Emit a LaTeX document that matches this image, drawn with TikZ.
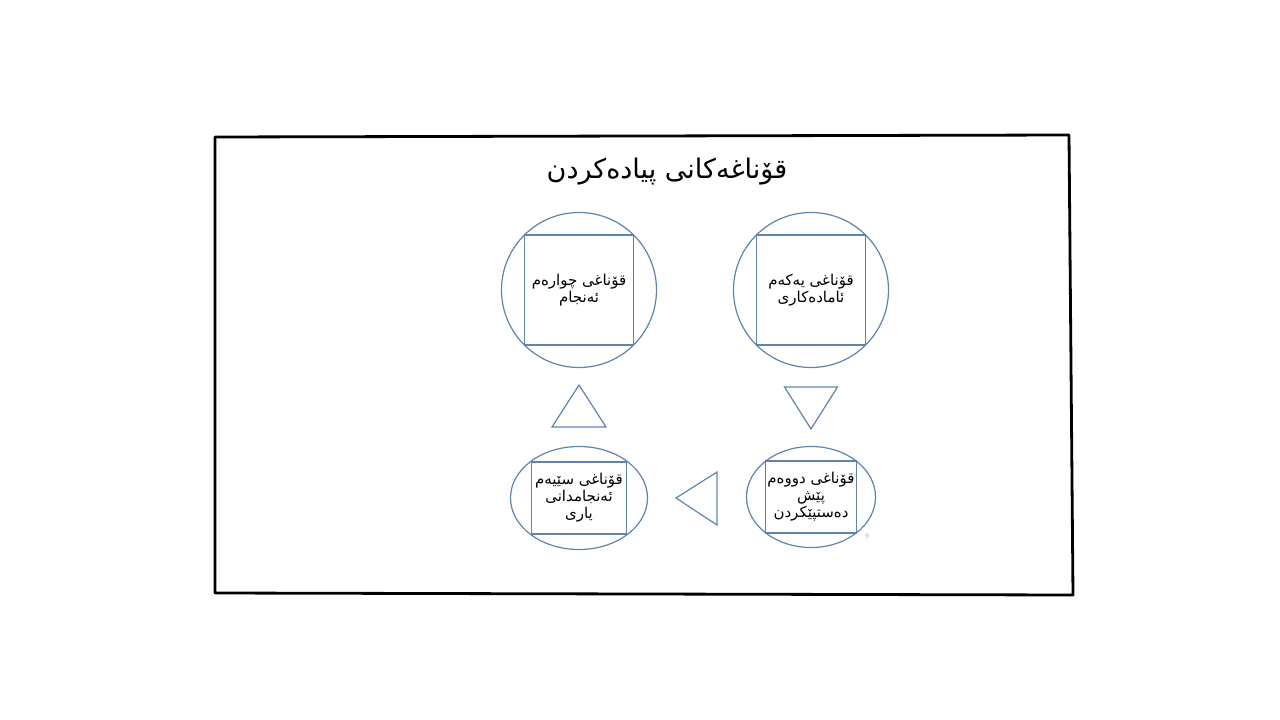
\documentclass[tikz,border=0pt]{standalone}
\usepackage{fontspec}
\newfontfamily\kurdfont[Script=Arabic]{DejaVu Sans}
\TeXXeTstate=1
\usetikzlibrary{shapes.geometric}
\definecolor{stageblue}{HTML}{5E84AD}

\begin{document}
\begin{tikzpicture}
                [x=1pt,y=-1pt,
                 stage/.style={draw=stageblue,line width=1.2pt,inner sep=0pt},
                 label box/.style={stage,rectangle,align=center,font=\kurdfont\fontsize{15}{17}\selectfont},
                 tri/.style={draw=stageblue,line width=1.2pt,line join=miter}]

                \useasboundingbox (0,0) rectangle (1280,720);

                % sketched frame
                \draw[line width=2.8pt,line join=round] (215,137) -- (1069,135) -- (1073,595) -- (215,593) -- cycle;

                \node (title) at (667,172) {\kurdfont\fontsize{27}{30}\selectfont\beginR قۆناغەکانی پیادەکردن\endR};

                \node[stage,circle,minimum size=155pt] (circle 1) at (811,290) {};
                \node[label box,minimum width=109pt,minimum height=110pt] (stage 1) at (circle 1)
                    {\beginR قۆناغی یەکەم\endR\\\beginR ئامادەکاری\endR};

                \node[stage,ellipse,minimum width=129pt,minimum height=101pt] (circle 2) at (811,497) {};
                \node[label box,minimum width=91pt,minimum height=72pt] (stage 2) at (circle 2)
                    {\beginR قۆناغی دووەم\endR\\\beginR پێش\endR\\\beginR دەستپێکردن\endR};

                \node[stage,ellipse,minimum width=137pt,minimum height=103pt] (circle 3) at (579,498) {};
                \node[label box,minimum width=95pt,minimum height=72pt] (stage 3) at (circle 3)
                    {\beginR قۆناغی سێیەم\endR\\\beginR ئەنجامدانی\endR\\\beginR یاری\endR};

                \node[stage,circle,minimum size=155pt] (circle 4) at (579,290) {};
                \node[label box,minimum width=109pt,minimum height=110pt] (stage 4) at (circle 4)
                    {\beginR قۆناغی چوارەم\endR\\\beginR ئەنجام\endR};

                % arrows between stages
                \coordinate (step 12) at (811,387);
                \coordinate (step 23) at (717,498);
                \coordinate (step 34) at (579,427);
                \draw[tri] (step 12) ++(-26.5,0) -- ++(53,0) -- ++(-26.5,42) -- cycle;
                \draw[tri] (step 23) ++(0,-26) -- ++(-41,26) -- ++(41,27) -- cycle;
                \draw[tri] (step 34) ++(-27,0) -- ++(27,-42) -- ++(27,42) -- cycle;

                \node[text=gray!70,font=\fontsize{7}{8}\selectfont] (page) at (867,536) {9};

\end{tikzpicture}
\end{document}
